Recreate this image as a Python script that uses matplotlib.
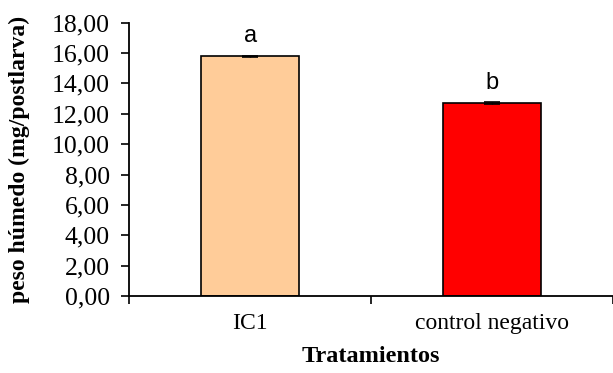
import matplotlib
matplotlib.use("Agg")
import matplotlib.pyplot as plt

# data
tratamientos = ["IC1", "control negativo"]
peso = [15.78, 12.72]
error = [0.05, 0.05]
letras = ["a", "b"]
colores = ["#FFCC99", "#FF0000"]
yticks = [0, 2, 4, 6, 8, 10, 12, 14, 16, 18]

fig = plt.figure(figsize=(6.13, 3.73), dpi=100)
ax = fig.add_axes([0.211, 0.2064, 0.789, 0.7327])

x = range(len(tratamientos))
ax.bar(x, peso, width=0.405, color=colores, edgecolor="black", linewidth=1.2,
       yerr=error, error_kw=dict(ecolor="black", elinewidth=1, capsize=6, capthick=1.2))

for i, (v, l) in enumerate(zip(peso, letras)):
    ax.text(i, v + 0.6, l, ha="center", va="bottom", fontsize=17, family="Liberation Sans")

ax.set_ylim(0, 18)
ax.set_xlim(-0.5, -0.5 + (613 - 129.3) / 247.4)
ax.set_yticks(yticks)
ax.set_yticklabels([("%.2f" % t).replace(".", ",") for t in yticks], family="Liberation Serif", fontsize=18.5)

ax.set_xticks([-0.5, 0.5, 1.5])
ax.set_xticklabels(["", "", ""])
ax.set_xticks([0, 1], minor=True)
ax.set_xticklabels(tratamientos, minor=True, family="Liberation Serif", fontsize=17)
ax.tick_params(axis="x", which="minor", length=0, pad=12)
ax.tick_params(axis="both", which="major", direction="out", length=6, width=1.2, color="black")
ax.tick_params(axis="y", pad=8)

for s in ["top", "right"]:
    ax.spines[s].set_visible(False)
for s in ["left", "bottom"]:
    ax.spines[s].set_linewidth(1.3)

ax.set_xlabel("Tratamientos", family="Liberation Serif", fontsize=17.5, fontweight="bold", labelpad=9)
ax.set_ylabel("peso húmedo (mg/postlarva)", family="Liberation Serif", fontsize=17, fontweight="bold", labelpad=16)

fig.savefig("out.png", dpi=100)
